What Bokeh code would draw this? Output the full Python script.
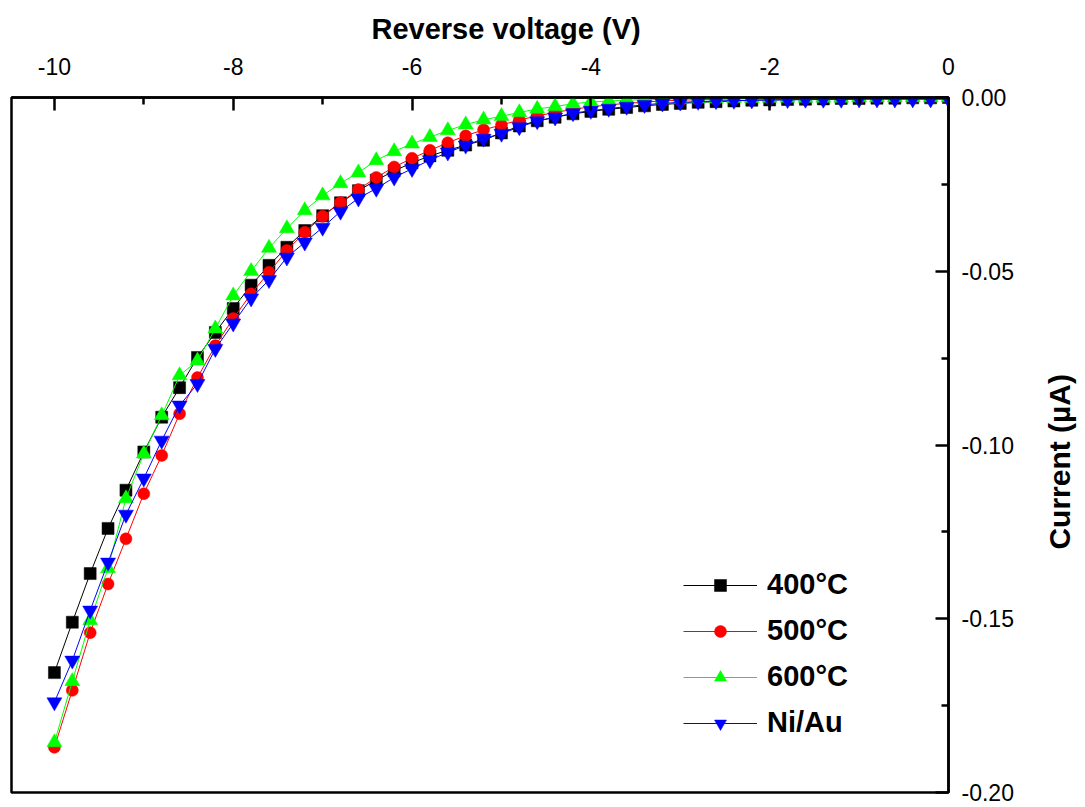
import math
from bokeh.plotting import figure
from bokeh.layouts import row
from bokeh.models import (Range1d, FixedTicker, NumeralTickFormatter, Legend,
                          LegendItem, Title)
from bokeh.embed import file_html
from bokeh.resources import INLINE
from bokeh.core.properties import value

# ---------------- data ----------------
voltage = [-10.0, -9.8, -9.6, -9.4, -9.2, -9.0, -8.8, -8.6, -8.4, -8.2,
           -8.0, -7.8, -7.6, -7.4, -7.2, -7.0, -6.8, -6.6, -6.4, -6.2,
           -6.0, -5.8, -5.6, -5.4, -5.2, -5.0, -4.8, -4.6, -4.4, -4.2,
           -4.0, -3.8, -3.6, -3.4, -3.2, -3.0, -2.8, -2.6, -2.4, -2.2,
           -2.0, -1.8, -1.6, -1.4, -1.2, -1.0, -0.8, -0.6, -0.4, -0.2, 0.0]

current_400C = [-0.1655, -0.151, -0.137, -0.124, -0.113, -0.102, -0.092, -0.0835, -0.0748, -0.0676,
                -0.0607, -0.054, -0.0483, -0.0431, -0.0383, -0.034, -0.0303, -0.0268, -0.0238, -0.0211,
                -0.0188, -0.0168, -0.0152, -0.0137, -0.0123, -0.0102, -0.0082, -0.0067, -0.0057, -0.0047,
                -0.0040, -0.0034, -0.0029, -0.0024, -0.0020, -0.0017, -0.0014, -0.0012, -0.0010, -0.0008,
                -0.0007, -0.0006, -0.0005, -0.0004, -0.0003, -0.0003, -0.0002, -0.0002, -0.0001, -0.0001, 0.0]

current_500C = [-0.187, -0.1706, -0.154, -0.140, -0.127, -0.114, -0.103, -0.091, -0.0806, -0.0714,
                -0.0636, -0.0565, -0.0503, -0.044, -0.0388, -0.0342, -0.0302, -0.0265, -0.023, -0.020,
                -0.0175, -0.0152, -0.013, -0.011, -0.0093, -0.0079, -0.0065, -0.0053, -0.0043, -0.0034,
                -0.0027, -0.0021, -0.0017, -0.0013, -0.0010, -0.0008, -0.0006, -0.0005, -0.0004, -0.0003,
                -0.0003, -0.0002, -0.0002, -0.0001, -0.0001, -0.0001, -0.0001, 0.0, 0.0, 0.0, 0.0]

current_600C = [-0.1856, -0.168, -0.1505, -0.1355, -0.1154, -0.1025, -0.0915, -0.080, -0.0757, -0.0665,
                -0.057, -0.050, -0.0433, -0.0377, -0.0325, -0.0282, -0.0247, -0.0216, -0.0181, -0.0155,
                -0.0133, -0.0114, -0.0095, -0.0078, -0.0064, -0.0054, -0.0043, -0.0033, -0.0026, -0.0018,
                -0.0013, -0.0010, -0.0008, -0.0006, -0.0005, -0.0004, -0.0003, -0.0003, -0.0002, -0.0002,
                -0.0001, -0.0001, -0.0001, -0.0001, -0.0001, 0.0, 0.0, 0.0, 0.0, 0.0, 0.0]

current_NiAu = [-0.174, -0.162, -0.1476, -0.1338, -0.120, -0.1096, -0.0987, -0.0886, -0.0824, -0.0723,
                -0.065, -0.0578, -0.0525, -0.046, -0.0417, -0.0374, -0.0328, -0.029, -0.0262, -0.023,
                -0.0205, -0.018, -0.0158, -0.0138, -0.0118, -0.0104, -0.0085, -0.0068, -0.0057, -0.0045,
                -0.0038, -0.0032, -0.0026, -0.0021, -0.0017, -0.0014, -0.0012, -0.0010, -0.0009, -0.0008,
                -0.0007, -0.0007, -0.0006, -0.0006, -0.0006, -0.0005, -0.0005, -0.0005, -0.0005, -0.0005, -0.0005]

series_labels = ["400°C", "500°C", "600°C", "Ni/Au"]
series_colors = ["#000000", "#FF0000", "#00FF00", "#0000FF"]
series_markers = ["square", "circle", "triangle", "inverted_triangle"]
series_sizes = [12, 12, 15, 15]
series_values = [current_400C, current_500C, current_600C, current_NiAu]

x_ticks = [-10, -8, -6, -4, -2, 0]
x_minor_ticks = [-9, -7, -5, -3, -1]
y_ticks = [0.0, -0.05, -0.10, -0.15, -0.20]
y_minor_ticks = [-0.025, -0.075, -0.125, -0.175]

x_title = "Reverse voltage (V)"
y_title = "Current (µA)"

FONT = "Liberation Sans"

# ---------------- main figure ----------------
p = figure(width=1025, height=807, output_backend="svg", toolbar_location=None,
           x_axis_location="above", y_axis_location="right",
           x_range=Range1d(-10.48, 0.0), y_range=Range1d(-0.2, 0.0),
           min_border_left=11, min_border_right=77, min_border_top=97,
           min_border_bottom=15)
p.grid.visible = False
p.outline_line_color = "black"
p.outline_line_width = 2.5
p.background_fill_color = "white"
p.border_fill_color = "white"

xa = p.xaxis[0]
xa.ticker = FixedTicker(ticks=x_ticks, minor_ticks=x_minor_ticks)
xa.formatter = NumeralTickFormatter(format="0")
ya = p.yaxis[0]
ya.ticker = FixedTicker(ticks=y_ticks, minor_ticks=y_minor_ticks)
ya.formatter = NumeralTickFormatter(format="0.00")

for ax in (xa, ya):
    ax.axis_line_width = 2.5
    ax.axis_line_color = "black"
    ax.major_tick_in = 13
    ax.major_tick_out = 0
    ax.minor_tick_in = 7
    ax.minor_tick_out = 0
    ax.major_tick_line_width = 2.5
    ax.minor_tick_line_width = 2.5
    ax.major_label_text_font = FONT
    ax.major_label_text_font_size = "23px"
    ax.major_label_text_color = "black"
xa.major_label_standoff = 23
ya.major_label_standoff = 13

items = []
for lab, col, mk, sz, vals in zip(series_labels, series_colors, series_markers,
                                  series_sizes, series_values):
    ln = p.line(voltage, vals, line_color=col, line_width=1)
    sc = p.scatter(voltage, vals, marker=mk, size=sz, fill_color=col,
                   line_color=col, line_width=0.5)
    items.append(LegendItem(label=lab, renderers=[ln, sc]))

legend = Legend(items=items, location=(672, 53), orientation="vertical",
                glyph_width=74, glyph_height=30, label_height=30, spacing=13,
                label_standoff=10, padding=0, margin=0,
                border_line_color=None, background_fill_alpha=0,
                label_text_font=FONT, label_text_font_size="29px",
                label_text_font_style="bold", label_text_color="black")
p.add_layout(legend, "center")

p.add_layout(Title(text=x_title, align="left", offset=360, text_font=FONT,
                   text_font_size="29px", text_font_style="bold",
                   text_color="black", standoff=16, vertical_align="top"),
             "above")

# ---------------- narrow strip holding the right-hand axis title ----------------
t = figure(width=60, height=807, output_backend="svg", toolbar_location=None,
           x_range=Range1d(0, 60), y_range=Range1d(0, 807),
           min_border_left=0, min_border_right=0, min_border_top=0,
           min_border_bottom=0)
t.axis.visible = False
t.grid.visible = False
t.outline_line_color = None
t.background_fill_color = "white"
t.border_fill_color = "white"
t.text(x=[34], y=[384], text=[y_title], angle=math.pi / 2,
       text_font=value(FONT), text_font_size="30px", text_font_style="bold",
       text_align="center", text_baseline="middle", text_color="black")

layout = row(p, t, spacing=0)
open("out.html", "w").write(file_html(layout, INLINE))
